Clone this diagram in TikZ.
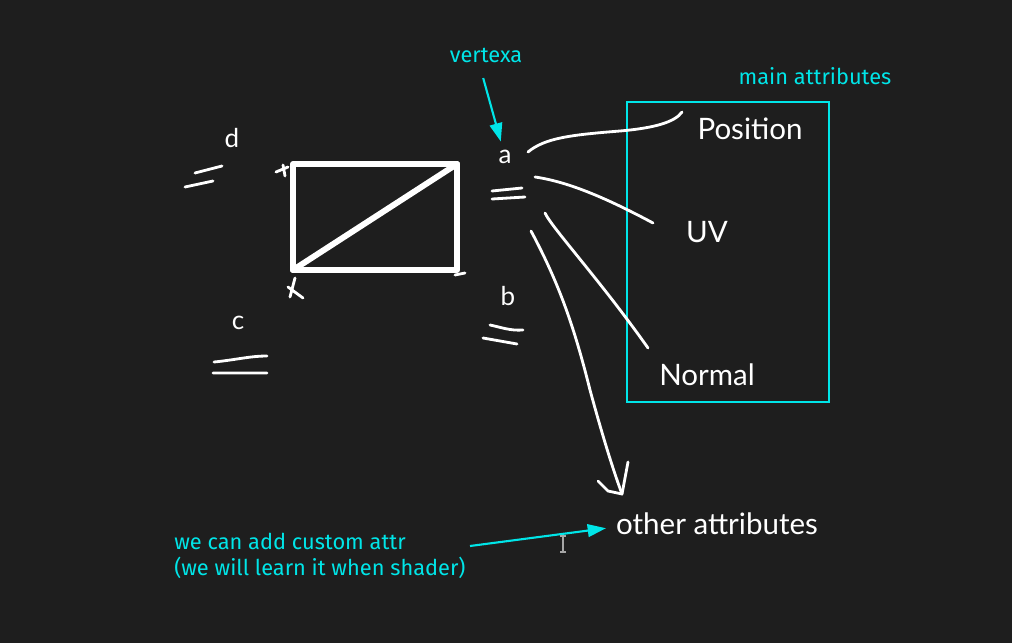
\documentclass[tikz,border=0pt]{standalone}
\usepackage{fontspec}
\setmainfont{Lato}
\newfontfamily\notefont{Fira Sans}
\usetikzlibrary{arrows.meta}
\definecolor{board}{HTML}{1E1E1E}
\definecolor{cyanink}{HTML}{00E5E8}

\begin{document}
\begin{tikzpicture}[x=0.025cm, y=-0.025cm,
  chalk/.style={white, line width=2pt, line cap=round, line join=round},
  edge/.style={white, line width=4.2pt, line cap=round, line join=round},
  note/.style={text=cyanink, inner sep=0, font=\notefont\fontsize{15.5}{18.5}\selectfont},
  attr/.style={text=white, inner sep=0, font=\fontsize{21}{25}\selectfont},
  corner/.style={text=white, inner sep=0, font=\fontsize{18.5}{22}\selectfont},
  pointer/.style={cyanink, line width=1.5pt, -{Triangle[length=13pt,width=9pt]}}]
\fill[board] (0,0) rectangle (1012,643);
\useasboundingbox (0,0) rectangle (1012,643);

% the quad and its diagonal
\coordinate (tl) at (293,164);
\coordinate (tr) at (457,164);
\coordinate (br) at (457,270);
\coordinate (bl) at (293,270);
\draw[edge] (tl) -- (tr) -- (br) -- (bl) -- cycle;
\draw[edge] (bl) -- (tr);
\draw[chalk] (276,172) -- (288,167) (283,165) -- (285,176);
\draw[chalk] (288,287) -- (303,298) (295,278) -- (290,297);
\draw[chalk] (455,275) -- (465,273);

% corner names, each with its double stroke
\node[corner] (ltrd) at (232,138) {d};
\node[corner] (ltra) at (505,157) {a};
\node[corner] (ltrb) at (508,296) {b};
\node[corner] (ltrc) at (238,323) {c};
\draw[chalk] (195,173) -- (222,166) (185,187) -- (213,181);
\draw[chalk] (492,191) -- (522,188) (492,199) -- (525,197);
\draw[chalk] (490,325) .. controls (500,327) and (510,331) .. (523,330) (483,338) -- (517,344);
\draw[chalk] (214,362) .. controls (235,360) and (250,356) .. (267,356) (213,373) -- (267,373);

% attributes of vertex a
\draw[cyanink, line width=1.4pt] (627,102) rectangle (829,402);
\node[note] (mainattr) at (815,76) {main attributes};
\node[attr] (position) at (750,129) {Position};
\node[attr] (uv) at (707,232) {UV};
\node[attr] (normal) at (707,375) {Normal};
\node[attr] (otherattr) at (717,524) {other attributes};

\draw[chalk] (528,152) .. controls (545,138) and (570,135) .. (620,131)
  .. controls (655,128) and (675,122) .. (682,112);
\draw[chalk] (535,177) .. controls (570,182) and (610,200) .. (653,223);
\draw[chalk] (545,213) .. controls (552,228) and (600,280) .. (648,348);
\draw[chalk] (531,231) .. controls (560,285) and (575,330) .. (590,390)
  .. controls (605,445) and (615,475) .. (622,494);
\draw[chalk] (598,481) -- (608,491) -- (622,494) -- (628,462);

% notes
\node[note] (vertexa) at (486,55) {vertexa};
\draw[pointer] ([xshift=-2pt,yshift=-11pt]vertexa.south) -- ([xshift=-3pt,yshift=6pt]ltra.north);
\node[note, anchor=west, align=left] (custom) at (174,556)
  {we can add custom attr\\(we will learn it when shader)};
\coordinate (notetail) at (470,546);
\draw[pointer] (notetail) -- ([xshift=-7pt,yshift=-3pt]otherattr.west);

% cursor
\draw[gray!70, line width=1.2pt] (560,536) -- (566,536) (563,536) -- (563,552) (560,552) -- (566,552);
\end{tikzpicture}
\end{document}
